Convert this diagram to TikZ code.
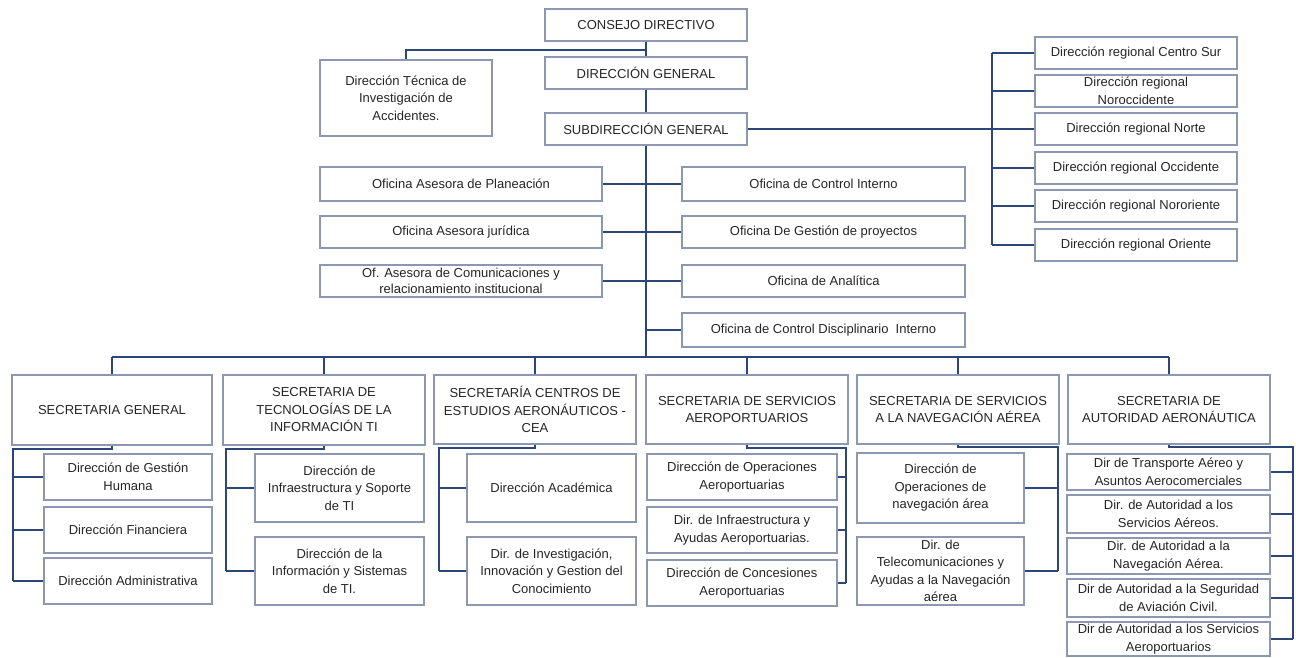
\documentclass[tikz,border=0pt]{standalone}
\usepackage{fontspec}
\setmainfont{Liberation Sans}
\definecolor{bordercol}{RGB}{140,152,178}
\definecolor{linecol}{RGB}{45,70,120}
\definecolor{txtcol}{RGB}{38,38,38}
\newcommand\bx[7][]{\node[box,#1,minimum width={(#5-#3)*1pt},minimum height={(#6-#4)*1pt}] (#2) at ({(#3+#5)/2},{(#4+#6)/2}) {#7};}
\begin{document}
\begin{tikzpicture}[x=1pt,y=-1pt,
  box/.style={draw=bordercol,line width=1.1pt,fill=white,inner sep=0pt,align=center,
    text=txtcol,font=\fontsize{13}{17.5}\selectfont},
  tight/.style={font=\fontsize{13}{16}\selectfont},
  conn/.style={draw=linecol,line width=1.9pt}]
\useasboundingbox (0,0) rectangle (1296,658);
% top
\bx{cd}{545}{9}{747}{41}{CONSEJO DIRECTIVO}
\bx{dg}{545}{57}{747}{89}{DIRECCIÓN GENERAL}
\bx{sg}{545}{113}{747}{145}{SUBDIRECCIÓN GENERAL}
\bx{dt}{320}{60}{492}{136}{Dirección Técnica de\\Investigación de\\Accidentes.}
% regional
\bx{rcs}{1035}{37}{1237}{69}{Dirección regional Centro Sur}
\bx{rno}{1035}{75}{1237}{107}{Dirección regional\\Noroccidente}
\bx{rn}{1035}{113}{1237}{145}{Dirección regional Norte}
\bx{roc}{1035}{152}{1237}{184}{Dirección regional Occidente}
\bx{rnor}{1035}{190}{1237}{222}{Dirección regional Nororiente}
\bx{ror}{1035}{229}{1237}{261}{Dirección regional Oriente}
% offices
\bx{op}{320}{167}{602}{201}{Oficina Asesora de Planeación}
\bx{oj}{320}{216}{602}{248}{Oficina Asesora jurídica}
\bx[tight]{oc}{320}{265}{602}{297}{Of. Asesora de Comunicaciones y\\relacionamiento institucional}
\bx{ci}{682}{167}{965}{201}{Oficina de Control Interno}
\bx{gp}{682}{216}{965}{248}{Oficina De Gestión de proyectos}
\bx{an}{682}{265}{965}{297}{Oficina de Analítica}
\bx{cdi}{682}{313}{965}{347}{Oficina de Control Disciplinario~~Interno}
% secretarias
\bx{s1}{12}{375}{212}{445}{SECRETARIA GENERAL}
\bx{s2}{223}{375}{425}{445}{SECRETARIA DE\\TECNOLOGÍAS DE LA\\INFORMACIÓN TI}
\bx{s3}{434}{375}{636}{444}{SECRETARÍA CENTROS DE\\ESTUDIOS AERONÁUTICOS -\\CEA}
\bx{s4}{646}{375}{848}{444}{SECRETARIA DE SERVICIOS\\AEROPORTUARIOS}
\bx{s5}{857}{375}{1059}{444}{SECRETARIA DE SERVICIOS\\A LA NAVEGACIÓN AÉREA}
\bx{s6}{1068}{375}{1270}{444}{SECRETARIA DE\\AUTORIDAD AERONÁUTICA}
% s1 children
\bx{g1}{44}{454}{212}{500}{Dirección de Gestión\\Humana}
\bx{g2}{44}{507}{212}{553}{Dirección Financiera}
\bx{g3}{44}{558}{212}{604}{Dirección Administrativa}
% s2 children
\bx{t1}{255}{454}{424}{522}{Dirección de\\Infraestructura y Soporte\\de TI}
\bx{t2}{255}{537}{424}{605}{Dirección de la\\Información y Sistemas\\de TI.}
% s3 children
\bx{c1}{467}{454}{636}{522}{Dirección Académica}
\bx{c2}{467}{537}{636}{605}{Dir. de Investigación,\\Innovación y Gestion del\\Conocimiento}
% s4 children
\bx{a1}{647}{454}{837}{500}{Dirección de Operaciones\\Aeroportuarias}
\bx{a2}{647}{507}{837}{553}{Dir. de Infraestructura y\\Ayudas Aeroportuarias.}
\bx{a3}{647}{560}{837}{606}{Dirección de Concesiones\\Aeroportuarias}
% s5 children
\bx{n1}{857}{453}{1024}{523}{Dirección de\\Operaciones de\\navegación área}
\bx{n2}{857}{537}{1024}{605}{Dir. de\\Telecomunicaciones y\\Ayudas a la Navegación\\aérea}
% s6 children
\bx{u1}{1067}{454}{1270}{490}{Dir de Transporte Aéreo y\\Asuntos Aerocomerciales}
\bx{u2}{1067}{495}{1270}{533}{Dir. de Autoridad a los\\Servicios Aéreos.}
\bx{u3}{1067}{538}{1270}{574}{Dir. de Autoridad a la\\Navegación Aérea.}
\bx{u4}{1067}{579}{1270}{617}{Dir de Autoridad a la Seguridad\\de Aviación Civil.}
\bx{u5}{1067}{622}{1270}{656}{Dir de Autoridad a los Servicios\\Aeroportuarios}
% connectors top
\coordinate (j1) at (646,50);
\draw[conn] (cd.south) -- (dg.north);
\draw[conn] (j1) -| (dt.north);
\draw[conn] (dg.south) -- (sg.north);
% regional
\coordinate (rt) at (992,129);
\draw[conn] (sg.east) -- (rt);
\draw[conn] (rt |- rcs.west) -- (rt |- ror.west);
\foreach \n in {rcs,rno,rn,roc,rnor,ror} \draw[conn] (rt |- \n.west) -- (\n.west);
% offices
\coordinate (bus) at (646,357);
\draw[conn] (sg.south) -- (bus);
\draw[conn] (op.east) -- (ci.west);
\draw[conn] (oj.east) -- (gp.west);
\draw[conn] (oc.east) -- (an.west);
\draw[conn] (sg.south |- cdi.west) -- (cdi.west);
% bus
\draw[conn] (s1.north |- bus) -- (s6.north |- bus);
\foreach \n in {s1,s2,s3,s4,s5,s6} \draw[conn] (\n.north |- bus) -- (\n.north);
% s1
\coordinate (e1) at (13,449);
\draw[conn] (s1.south) |- (e1) -- (e1 |- g3.west);
\foreach \n in {g1,g2,g3} \draw[conn] (e1 |- \n.west) -- (\n.west);
% s2
\coordinate (e2) at (226,449);
\draw[conn] (s2.south) |- (e2) -- (e2 |- t2.west);
\foreach \n in {t1,t2} \draw[conn] (e2 |- \n.west) -- (\n.west);
% s3
\coordinate (e3) at (439,448);
\draw[conn] (s3.south) |- (e3) -- (e3 |- c2.west);
\foreach \n in {c1,c2} \draw[conn] (e3 |- \n.west) -- (\n.west);
% s4
\coordinate (e4) at (846,448);
\draw[conn] (s4.south) |- (e4) -- (e4 |- a3.east);
\foreach \n in {a1,a2,a3} \draw[conn] (e4 |- \n.east) -- (\n.east);
% s5
\coordinate (e5) at (1058,447);
\draw[conn] (s5.south) |- (e5) -- (e5 |- n2.east);
\foreach \n in {n1,n2} \draw[conn] (e5 |- \n.east) -- (\n.east);
% s6
\coordinate (e6) at (1293,447);
\draw[conn] (s6.south) |- (e6) -- (e6 |- u5.east);
\foreach \n in {u1,u2,u3,u4,u5} \draw[conn] (e6 |- \n.east) -- (\n.east);
\end{tikzpicture}
\end{document}
